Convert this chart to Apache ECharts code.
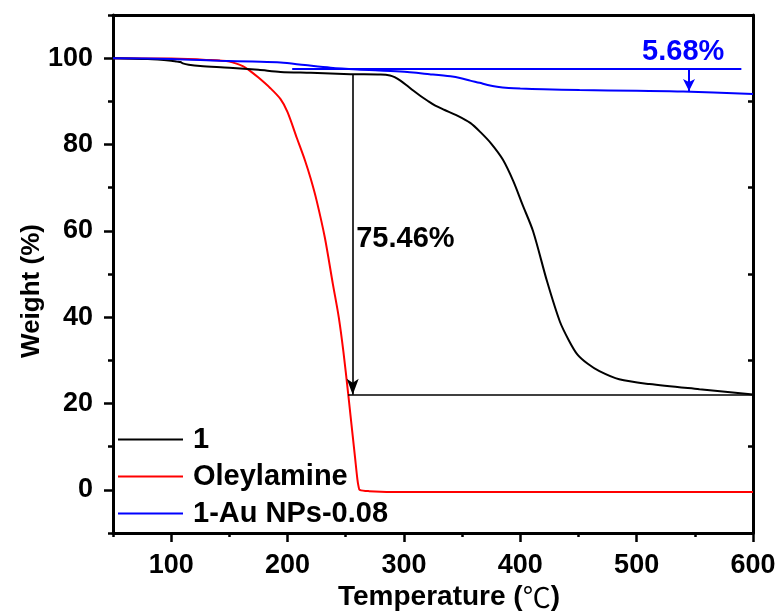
<!DOCTYPE html>
<html>
<head>
<meta charset="utf-8">
<script src="https://cdn.jsdelivr.net/npm/echarts@6/dist/echarts.min.js"></script>
<style>html,body{margin:0;padding:0;background:#fff}#c{width:781px;height:612px}</style>
</head>
<body>
<div id="c"></div>
<script>
// ---- data ----
const temp1 = [50, 80, 100, 105, 108, 110, 115, 125, 150, 175, 194, 220, 254, 280, 288, 292, 297, 302, 308, 314, 320, 327, 335, 345, 357, 366, 375, 385, 394, 402, 411, 423, 434, 442, 449, 458, 468, 485, 511, 554, 600];
const w1    = [100, 99.8, 99.4, 99.2, 99.1, 98.8, 98.5, 98.2, 97.8, 97.3, 96.8, 96.6, 96.3, 96.2, 96.0, 95.6, 94.8, 93.8, 92.5, 91.3, 90.2, 89.0, 88.0, 86.8, 85.0, 82.8, 80.2, 76.5, 71.5, 66.0, 59.9, 48.3, 39.0, 34.5, 31.4, 29.2, 27.5, 25.6, 24.5, 23.3, 22.1];

const tempR = [50, 100, 130, 150, 162, 168, 175, 185, 194, 200, 208, 215, 220, 225, 232, 239, 244, 248, 252, 254, 256, 258, 260, 261, 262, 270, 300, 400, 500, 600];
const wR    = [100, 99.9, 99.6, 99.2, 98.1, 97.0, 95.5, 93.1, 90.5, 87.5, 81.5, 76.3, 72.0, 67.0, 58.5, 47.6, 40.0, 32.0, 22.5, 17.5, 12.5, 7.5, 2.5, 0.8, 0, -0.3, -0.5, -0.5, -0.5, -0.5];

const tempB = [50, 100, 142, 170, 194, 215, 237, 260, 297, 322, 340, 350, 357, 365, 372, 380, 390, 400, 420, 451, 500, 540, 600];
const wB    = [100, 99.8, 99.4, 99.2, 99.0, 98.4, 97.8, 97.4, 96.9, 96.3, 95.8, 95.3, 94.8, 94.3, 93.8, 93.4, 93.1, 92.95, 92.8, 92.6, 92.45, 92.3, 91.7];

const seriesNames = ['1', 'Oleylamine', '1-Au NPs-0.08'];
const xTicks = [100, 200, 300, 400, 500, 600];
const yTicks = [0, 20, 40, 60, 80, 100];
const yRightTicks = [10, 30, 50, 70, 90];

// annotations (data coordinates)
const lossArrow1 = { x: 256, from: 96.3, to: 22 };
const residue1 = { y: 22, x0: 252, x1: 600 };
const lossLabel1 = { x: 259, y: 58.1, text: '75.46%' };
const refLineB = { y: 97.6, x0: 204, x1: 590 };
const lossArrowB = { x: 545, from: 97.6, to: 92.4 };
const lossLabelB = { x: 540, y: 101.4, text: '5.68%' };

const FONT = '"Liberation Sans", Arial, sans-serif';
const zip = (a, b) => a.map((v, i) => [v, b[i]]);

const chart = echarts.init(document.getElementById('c'), null, { renderer: 'canvas' });
const axisLine = { show: true, onZero: false, lineStyle: { color: '#000', width: 3 } };
const noLine = { show: false, onZero: false };
const labelStyle = { color: '#000', fontFamily: FONT, fontWeight: 'bold', fontSize: 27 };

chart.setOption({
  animation: false,
  backgroundColor: '#fff',
  grid: { left: 113, right: 28, top: 15, bottom: 79, containLabel: false, outerBoundsMode: 'none' },
  legend: {
    orient: 'vertical', left: 113, top: 420, itemGap: 8,
    itemWidth: 65, itemHeight: 2, icon: 'rect',
    textStyle: Object.assign({}, labelStyle, { fontSize: 29, padding: [0, 0, 0, 5] }),
    data: seriesNames
  },
  xAxis: [
    {
      type: 'value', min: 50, max: 600, interval: 50, position: 'bottom',
      axisLine, splitLine: { show: false },
      axisTick: { show: true, length: 4, lineStyle: { color: '#000', width: 2.5 } },
      axisLabel: Object.assign({}, labelStyle, { margin: 19, formatter: v => (v % 100 === 0 ? String(v) : '') }),
      name: 'Temperature ({d|℃})', nameLocation: 'middle', nameGap: 50, nameMoveOverlap: false,
      nameTextStyle: Object.assign({}, labelStyle, { fontSize: 28, padding: [0, 0, 0, 32],
        rich: { d: { fontFamily: '"Noto Sans CJK SC"', fontWeight: 'normal', fontSize: 28, color: '#000' } } })
    },
    {
      type: 'value', min: 50, max: 600, position: 'bottom',
      axisLine: noLine, splitLine: { show: false }, axisLabel: { show: false },
      axisTick: { show: true, length: 9, customValues: xTicks, lineStyle: { color: '#000', width: 2.5 } }
    },
    {
      type: 'value', min: 50, max: 600, position: 'top',
      axisLine, splitLine: { show: false }, axisLabel: { show: false }, axisTick: { show: false }
    }
  ],
  yAxis: [
    {
      type: 'value', min: -10, max: 110, interval: 10, position: 'left',
      axisLine, splitLine: { show: false },
      axisTick: { show: true, length: 5, lineStyle: { color: '#000', width: 2.5 } },
      axisLabel: Object.assign({}, labelStyle, { margin: 20, formatter: v => (v % 20 === 0 && v >= 0 && v <= 100 ? String(v) : '') }),
      name: 'Weight (%)', nameLocation: 'middle', nameGap: 68, nameMoveOverlap: false,
      nameTextStyle: Object.assign({}, labelStyle, { fontSize: 26, padding: [0, 34, 0, 0] })
    },
    {
      type: 'value', min: -10, max: 110, position: 'left',
      axisLine: noLine, splitLine: { show: false }, axisLabel: { show: false },
      axisTick: { show: true, length: 9, customValues: yTicks, lineStyle: { color: '#000', width: 2.5 } }
    },
    {
      type: 'value', min: -10, max: 110, position: 'right',
      axisLine, splitLine: { show: false }, axisLabel: { show: false },
      axisTick: { show: true, inside: true, length: 5, customValues: yRightTicks, lineStyle: { color: '#000', width: 2.5 } }
    }
  ],
  series: [
    {
      name: seriesNames[0], type: 'line', data: zip(temp1, w1), showSymbol: false, symbol: 'none', smooth: 0.3,
      lineStyle: { color: '#000', width: 2 }, itemStyle: { color: '#000' }, z: 3,
      markLine: {
        silent: true, symbol: ['none', 'none'], label: { show: false },
        lineStyle: { color: '#000', width: 1.6, type: 'solid' },
        data: [
          [{ coord: [lossArrow1.x, lossArrow1.from], symbol: 'none' }, { coord: [lossArrow1.x, lossArrow1.to], symbol: 'arrow', symbolSize: [9, 16] }],
          [{ coord: [residue1.x0, residue1.y] }, { coord: [residue1.x1, residue1.y] }]
        ]
      },
      markPoint: {
        silent: true,
        data: [{ coord: [lossLabel1.x, lossLabel1.y], symbol: 'circle', symbolSize: 0,
          label: { show: true, formatter: lossLabel1.text, position: 'right', distance: 0,
            color: '#000', fontFamily: FONT, fontWeight: 'bold', fontSize: 29 } }]
      }
    },
    {
      name: seriesNames[1], type: 'line', data: zip(tempR, wR), showSymbol: false, symbol: 'none', smooth: 0.3,
      lineStyle: { color: '#ff0000', width: 2 }, itemStyle: { color: '#ff0000' }, z: 2
    },
    {
      name: seriesNames[2], type: 'line', data: zip(tempB, wB), showSymbol: false, symbol: 'none', smooth: 0.3,
      lineStyle: { color: '#0000ff', width: 2 }, itemStyle: { color: '#0000ff' }, z: 4,
      markLine: {
        silent: true, symbol: ['none', 'none'], label: { show: false },
        lineStyle: { color: '#0000ff', width: 2, type: 'solid' },
        data: [
          [{ coord: [refLineB.x0, refLineB.y] }, { coord: [refLineB.x1, refLineB.y] }],
          [{ coord: [lossArrowB.x, lossArrowB.from], symbol: 'none' }, { coord: [lossArrowB.x, lossArrowB.to], symbol: 'arrow', symbolSize: [9, 12] }]
        ]
      },
      markPoint: {
        silent: true,
        data: [{ coord: [lossLabelB.x, lossLabelB.y], symbol: 'circle', symbolSize: 0,
          label: { show: true, formatter: lossLabelB.text, position: 'inside',
            color: '#0000ff', fontFamily: FONT, fontWeight: 'bold', fontSize: 29 } }]
      }
    }
  ]
});
</script>
</body>
</html>
